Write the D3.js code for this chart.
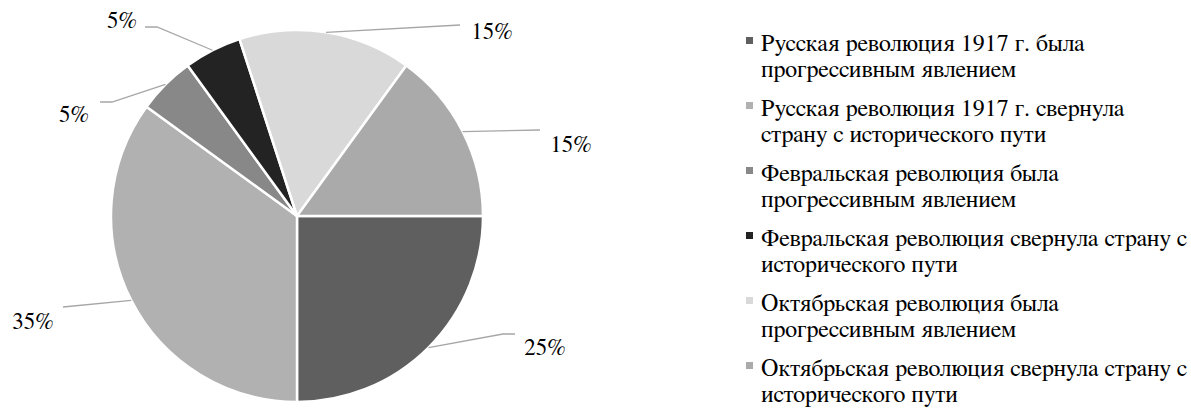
<!DOCTYPE html>
<html>
<head>
<meta charset="utf-8">
<script src="https://cdn.jsdelivr.net/npm/d3@7"></script>
<style>
  body { margin: 0; background: #fff; }
  svg { display: block; }
</style>
</head>
<body>
<div class="chart"></div>
<script>
var categories = [
  "Русская революция 1917 г. была прогрессивным явлением",
  "Русская революция 1917 г. свернула страну с исторического пути",
  "Февральская революция была прогрессивным явлением",
  "Февральская революция свернула страну с исторического пути",
  "Октябрьская революция была прогрессивным явлением",
  "Октябрьская революция свернула страну с исторического пути"
];
var values = [25, 35, 5, 5, 15, 15];
var valueLabels = ["25%", "35%", "5%", "5%", "15%", "15%"];
var colors = ["#5f5f5f", "#b1b1b1", "#888888", "#232323", "#d9d9d9", "#aaaaaa"];

var svgWidth = 1191;
var svgHeight = 410;
var cx = 297, cy = 216, radius = 186;
var serif = "'FreeSerif'";

// label centres and leader ends, relative to the pie centre
var labelOffsets = [[248, 131], [-264, 105], [-223, -102], [-175, -196], [195, -185], [274, -72]];
var leaderEnds = [[218, 118], [-234, 91], [-197, -114], [-152, -189], [163, -191], [243, -86]];
var elbows = [-12, 0, 12, 12, 0, 0];

var svg = d3.select(".chart")
  .append("svg")
  .attr("width", svgWidth)
  .attr("height", svgHeight);

var pieGroup = svg.append("g")
  .attr("transform", `translate(${cx}, ${cy})`);

var pie = d3.pie()
  .sort(null)
  .startAngle(Math.PI / 2)
  .endAngle(Math.PI / 2 + 2 * Math.PI);

var arc = d3.arc().innerRadius(0).outerRadius(radius);

var arcs = pie(values);

pieGroup.selectAll("path.slice")
  .data(arcs)
  .enter()
  .append("path")
  .attr("class", "slice")
  .attr("d", arc)
  .attr("fill", (d, i) => colors[i])
  .attr("stroke", "#fff")
  .attr("stroke-width", 2.5)
  .attr("stroke-linejoin", "round");

// leader lines
pieGroup.selectAll("polyline.leader")
  .data(arcs)
  .enter()
  .append("polyline")
  .attr("class", "leader")
  .attr("fill", "none")
  .attr("stroke", "#a6a6a6")
  .attr("stroke-width", 1.3)
  .attr("points", function(d, i) {
    var mid = (d.startAngle + d.endAngle) / 2;
    var sx = radius * Math.sin(mid), sy = -radius * Math.cos(mid);
    var end = leaderEnds[i];
    var pts = [[sx, sy]];
    if (elbows[i] !== 0) pts.push([end[0] + elbows[i], end[1]]);
    pts.push(end);
    return pts.map(p => p.join(",")).join(" ");
  });

pieGroup.selectAll("text.value")
  .data(arcs)
  .enter()
  .append("text")
  .attr("class", "value")
  .attr("x", (d, i) => labelOffsets[i][0])
  .attr("y", (d, i) => labelOffsets[i][1])
  .attr("dy", "0.35em")
  .attr("text-anchor", "middle")
  .attr("font-family", serif)
  .attr("font-size", 23)
  .attr("fill", "#000")
  .text((d, i) => valueLabels[i]);

// legend
var legend = svg.append("g")
  .attr("transform", "translate(746, 51)");

var item = legend.selectAll("g.item")
  .data(categories)
  .enter()
  .append("g")
  .attr("class", "item")
  .attr("transform", (d, i) => `translate(0, ${i * 65})`);

item.append("rect")
  .attr("x", 0)
  .attr("y", -14)
  .attr("width", 7)
  .attr("height", 7)
  .attr("fill", (d, i) => colors[i]);

item.append("text")
  .attr("font-family", serif)
  .attr("font-size", 24)
  .attr("fill", "#000")
  .each(function(d) {
    var el = d3.select(this);
    var words = d.split(" ");
    var line = [];
    var lineNo = 0;
    var tspan = el.append("tspan").attr("x", 15).attr("y", 0);
    words.forEach(function(w) {
      line.push(w);
      tspan.text(line.join(" "));
      if (tspan.node().getComputedTextLength() > 435 && line.length > 1) {
        line.pop();
        tspan.text(line.join(" "));
        line = [w];
        lineNo++;
        tspan = el.append("tspan").attr("x", 15).attr("y", lineNo * 26).text(w);
      }
    });
  });
</script>
</body>
</html>
